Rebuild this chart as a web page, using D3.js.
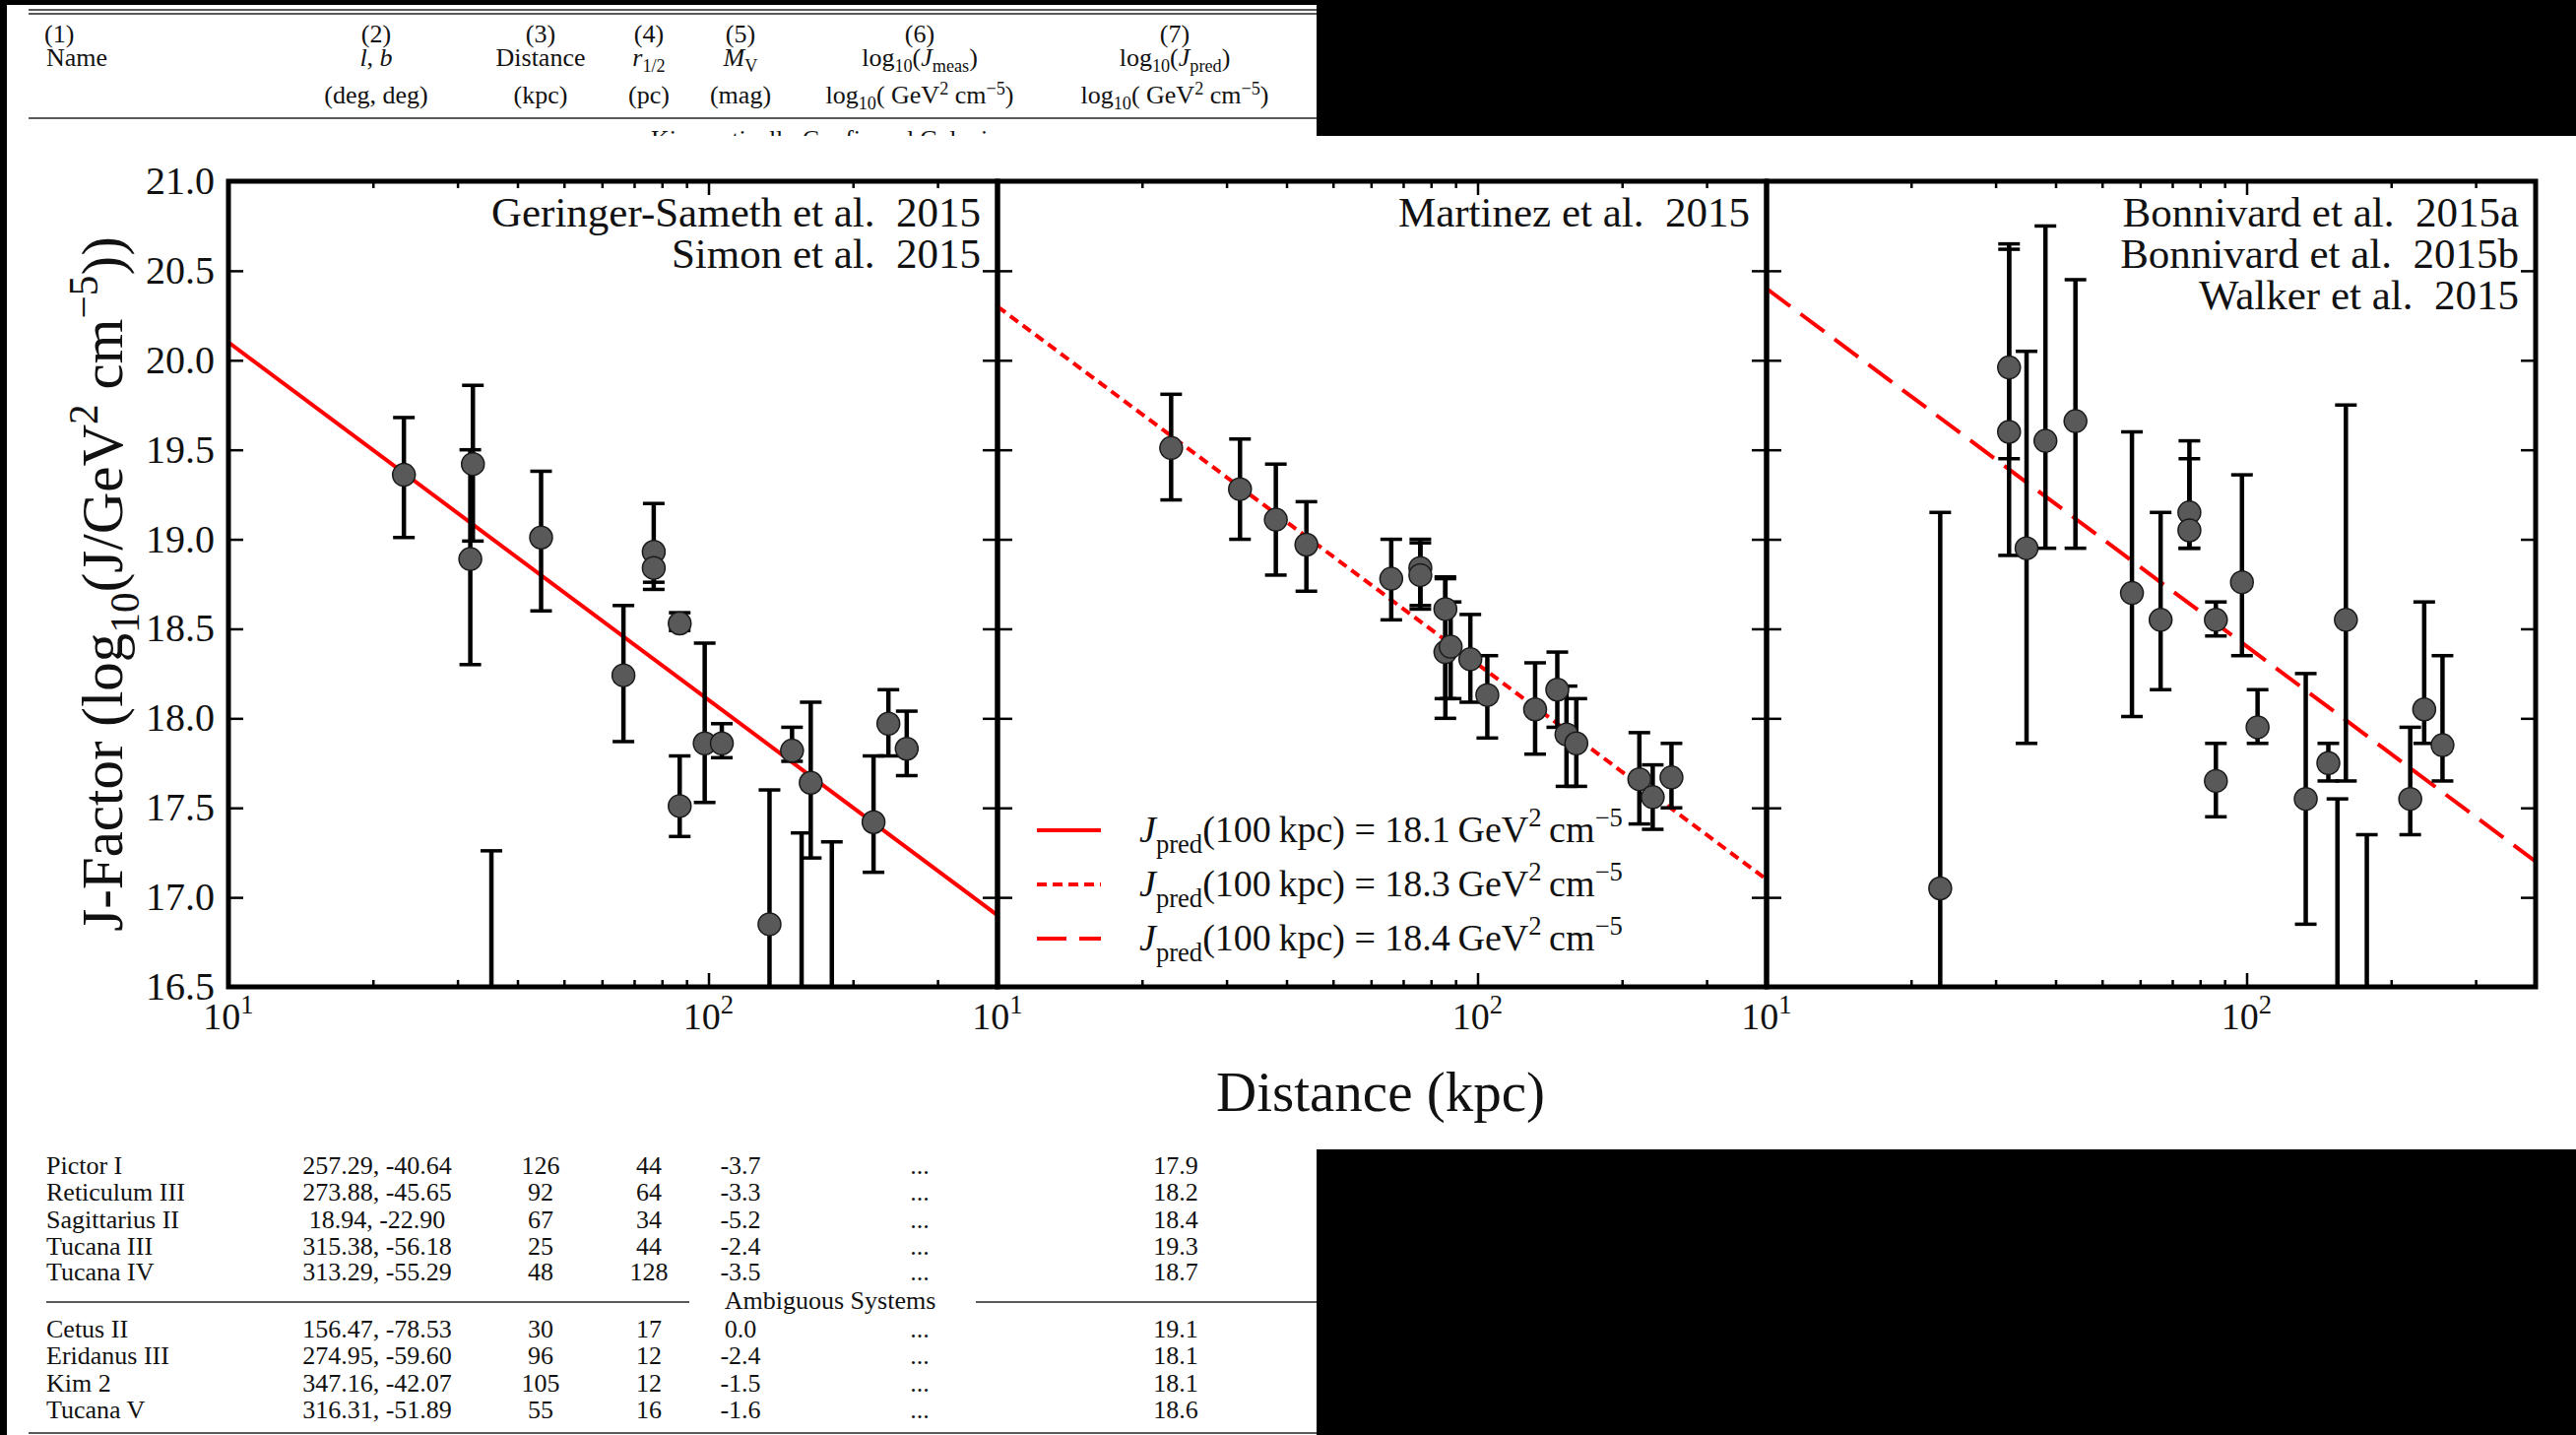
<!DOCTYPE html>
<html>
<head>
<meta charset="utf-8">
<script src="https://cdn.jsdelivr.net/npm/d3@7"></script>
<style>
html, body { margin: 0; padding: 0; background: #000; }
svg { display: block; }
text { font-family: "Liberation Serif", "DejaVu Serif", serif; fill: #111; white-space: pre; }
</style>
</head>
<body>
<div id="chart"></div>
<script>
// ---- panel 1: Geringer-Sameth et al. / Simon et al. 2015
var gsDist = [23.2, 32.3, 31.9, 35.3, 44.8, 66.5, 76.9, 76.9, 87.1, 87.1, 98.2, 106.6, 134, 149.3, 156.3, 163.3, 180.7, 220.7, 237, 258.8];
var gsJ    = [19.36, 19.42, 18.89, 16.2, 19.01, 18.24, 18.93, 18.84, 18.53, 17.51, 17.86, 17.86, 16.85, 17.82, 16.3, 17.64, 16.2, 17.42, 17.97, 17.83];
var gsLow  = [19.01, 18.99, 18.30, 15.5, 18.60, 17.87, 18.76, 18.72, 18.49, 17.34, 17.53, 17.78, 16.0, 17.76, 15.5, 17.22, 15.5, 17.14, 17.79, 17.68];
var gsHigh = [19.68, 19.86, 19.50, 17.26, 19.38, 18.63, 19.20, 18.95, 18.59, 17.79, 18.42, 17.97, 17.60, 17.95, 17.36, 18.09, 17.31, 17.79, 18.16, 18.04];

// ---- panel 2: Martinez et al. 2015
var mtDist = [23.0, 32.0, 38.0, 44.0, 66.1, 76.0, 76.0, 85.7, 85.7, 87.9, 96.6, 104.8, 131.8, 146.6, 153.2, 160.6, 217.3, 231.7, 253.5];
var mtJ    = [19.51, 19.28, 19.11, 18.97, 18.78, 18.84, 18.80, 18.61, 18.37, 18.40, 18.33, 18.13, 18.05, 18.16, 17.91, 17.86, 17.66, 17.56, 17.67];
var mtLow  = [19.22, 19.0, 18.80, 18.71, 18.55, 18.63, 18.61, 18.11, 18.0, 18.11, 18.09, 17.89, 17.80, 17.95, 17.62, 17.62, 17.41, 17.38, 17.50];
var mtHigh = [19.81, 19.56, 19.42, 19.21, 19.0, 19.0, 18.98, 18.79, 18.78, 18.65, 18.58, 18.35, 18.31, 18.37, 18.18, 18.11, 17.92, 17.74, 17.86];

// ---- panel 3: Bonnivard et al. 2015a,b / Walker et al. 2015
var bwDist = [23.0, 32.0, 32.0, 34.8, 38.1, 44.0, 57.7, 66.2, 76.0, 76.0, 86.3, 86.3, 97.8, 105.4, 132.8, 148, 154.6, 161, 178, 219.2, 234.4, 255.9];
var bwJ    = [17.05, 19.96, 19.60, 18.95, 19.55, 19.66, 18.70, 18.55, 19.15, 19.05, 18.55, 17.65, 18.76, 17.95, 17.55, 17.75, 16.2, 18.55, 16.2, 17.55, 18.05, 17.85];
var bwLow  = [16.0, 19.45, 18.91, 17.86, 18.95, 18.95, 18.01, 18.16, 18.95, 18.95, 18.46, 17.45, 18.35, 17.86, 16.85, 17.65, 15.5, 17.65, 15.5, 17.35, 17.86, 17.65];
var bwHigh = [19.15, 20.65, 20.62, 20.05, 20.75, 20.45, 19.60, 19.15, 19.55, 19.45, 18.65, 17.86, 19.36, 18.16, 18.25, 17.86, 17.55, 19.75, 17.35, 17.95, 18.65, 18.35];

// predicted J(d) lines, end points at 10 and 400 kpc
var fitDist = [10, 400];
var fitJ1 = [20.1, 16.9];
var fitJ2 = [20.3, 17.1];
var fitJ3 = [20.4, 17.2];
var fitLabels = ["18.1", "18.3", "18.4"];

var panelRefs = [
    ["Geringer-Sameth et al.  2015", "Simon et al.  2015"],
    ["Martinez et al.  2015"],
    ["Bonnivard et al.  2015a", "Bonnivard et al.  2015b", "Walker et al.  2015"]
];

var yTicks = [16.5, 17.0, 17.5, 18.0, 18.5, 19.0, 19.5, 20.0, 20.5, 21.0];
var xMajor = [10, 100];
var xMinor = [20, 30, 40, 50, 60, 70, 80, 90, 200, 300];

// ---- table rows (bottom strip)
var newNames  = ["Pictor I", "Reticulum III", "Sagittarius II", "Tucana III", "Tucana IV"];
var newLB     = ["257.29, -40.64", "273.88, -45.65", "18.94, -22.90", "315.38, -56.18", "313.29, -55.29"];
var newDist   = ["126", "92", "67", "25", "48"];
var newRhalf  = ["44", "64", "34", "44", "128"];
var newMv     = ["-3.7", "-3.3", "-5.2", "-2.4", "-3.5"];
var newJpred  = ["17.9", "18.2", "18.4", "19.3", "18.7"];
var ambNames  = ["Cetus II", "Eridanus III", "Kim 2", "Tucana V"];
var ambLB     = ["156.47, -78.53", "274.95, -59.60", "347.16, -42.07", "316.31, -51.89"];
var ambDist   = ["30", "96", "105", "55"];
var ambRhalf  = ["17", "12", "12", "16"];
var ambMv     = ["0.0", "-2.4", "-1.5", "-1.6"];
var ambJpred  = ["19.1", "18.1", "18.1", "18.6"];

function init() {
    var W = 2616, H = 1457;
    var svg = d3.select("#chart").append("svg")
        .attr("width", W).attr("height", H);

    svg.append("rect").attr("width", W).attr("height", H).attr("fill", "#000");
    svg.append("rect").attr("x", 7).attr("y", 5).attr("width", 1330).attr("height", 134).attr("fill", "#fff");
    svg.append("rect").attr("x", 7).attr("y", 138).attr("width", W - 7).attr("height", 1029).attr("fill", "#fff");
    svg.append("rect").attr("x", 7).attr("y", 1167).attr("width", 1330).attr("height", 290).attr("fill", "#fff");

    // rich text: parts with sub / sup / italic
    function rich(txt, parts, fs, subK, supK) {
        var cur = 0;
        subK = subK || 0.28;
        supK = supK || 0.42;
        parts.forEach(function (p) {
            var off = p.sub ? subK * fs : (p.sup ? -supK * fs : 0);
            var t = txt.append("tspan")
                .attr("dy", off - cur)
                .attr("font-size", (p.sub || p.sup) ? fs * 0.7 : fs)
                .text(p.t);
            if (p.it) t.attr("font-style", "italic");
            cur = off;
        });
        return txt;
    }
    function label(x, y, fs, anchor, parts, subK, supK) {
        var t = svg.append("text").attr("x", x).attr("y", y)
            .attr("font-size", fs).attr("text-anchor", anchor);
        return rich(t, parts, fs, subK, supK);
    }

    // ---------------- top table header ----------------
    var tfs = 26;
    [10, 14].forEach(function (yy) {
        svg.append("line").attr("x1", 29).attr("x2", 1337).attr("y1", yy).attr("y2", yy)
            .attr("stroke", "#222").attr("stroke-width", 1.5);
    });
    svg.append("line").attr("x1", 29).attr("x2", 1337).attr("y1", 120).attr("y2", 120)
        .attr("stroke", "#222").attr("stroke-width", 1.5);

    var colX = [382, 549, 659, 752, 934, 1193];
    var r1 = 43, r2 = 67, r3 = 105;
    label(45, r1, tfs, "start", [{t: "(1)"}]);
    label(47, r2, tfs, "start", [{t: "Name"}]);
    ["(2)", "(3)", "(4)", "(5)", "(6)", "(7)"].forEach(function (s, i) {
        label(colX[i], r1, tfs, "middle", [{t: s}]);
    });
    label(colX[0], r2, tfs, "middle", [{t: "l", it: true}, {t: ", "}, {t: "b", it: true}]);
    label(colX[1], r2, tfs, "middle", [{t: "Distance"}]);
    label(colX[2], r2, tfs, "middle", [{t: "r", it: true}, {t: "1/2", sub: true}], 0.22);
    label(colX[3], r2, tfs, "middle", [{t: "M", it: true}, {t: "V", sub: true}], 0.22);
    label(colX[4], r2, tfs, "middle", [{t: "log"}, {t: "10", sub: true}, {t: "("}, {t: "J", it: true}, {t: "meas", sub: true}, {t: ")"}], 0.22);
    label(colX[5], r2, tfs, "middle", [{t: "log"}, {t: "10", sub: true}, {t: "("}, {t: "J", it: true}, {t: "pred", sub: true}, {t: ")"}], 0.22);
    label(colX[0], r3, tfs, "middle", [{t: "(deg, deg)"}]);
    label(colX[1], r3, tfs, "middle", [{t: "(kpc)"}]);
    label(colX[2], r3, tfs, "middle", [{t: "(pc)"}]);
    label(colX[3], r3, tfs, "middle", [{t: "(mag)"}]);
    [colX[4], colX[5]].forEach(function (cx) {
        label(cx, r3, tfs, "middle", [{t: "log"}, {t: "10", sub: true}, {t: "( GeV"}, {t: "2", sup: true}, {t: " cm"}, {t: "\u22125", sup: true}, {t: ")"}], 0.22, 0.36);
    });
    // next section title, cut off by the strip's lower edge
    svg.append("clipPath").attr("id", "cutTop").append("rect")
        .attr("x", 0).attr("y", 0).attr("width", 1337).attr("height", 138);
    svg.append("text").attr("x", 843).attr("y", 150).attr("font-size", tfs)
        .attr("text-anchor", "middle").attr("clip-path", "url(#cutTop)")
        .text("Kinematically Confirmed Galaxies");

    // ---------------- panels ----------------
    var panelW = 781, panelX0 = 232, yTop = 184, yBot = 1002;
    var y = d3.scaleLinear().domain([16.5, 21]).range([yBot, yTop]);

    var panels = [
        {dist: gsDist, j: gsJ, lo: gsLow, hi: gsHigh, fit: fitJ1, dash: null},
        {dist: mtDist, j: mtJ, lo: mtLow, hi: mtHigh, fit: fitJ2, dash: "10,6"},
        {dist: bwDist, j: bwJ, lo: bwLow, hi: bwHigh, fit: fitJ3, dash: "30,13"}
    ];

    panels.forEach(function (p, i) {
        var x0 = panelX0 + i * panelW;
        var x = d3.scaleLog().domain([10, 400]).range([x0, x0 + panelW]);
        var g = svg.append("g");

        g.append("clipPath").attr("id", "clip" + i).append("rect")
            .attr("x", x0).attr("y", yTop).attr("width", panelW).attr("height", yBot - yTop);
        var plot = g.append("g").attr("clip-path", "url(#clip" + i + ")");

        // predicted line
        var line = d3.line().x(function (d) { return x(d[0]); }).y(function (d) { return y(d[1]); });
        plot.append("path")
            .datum(d3.zip(fitDist, p.fit))
            .attr("d", line)
            .attr("fill", "none")
            .attr("stroke", "#ff0000")
            .attr("stroke-width", 4)
            .attr("stroke-dasharray", p.dash);

        var rows = p.dist.map(function (d, k) { return {d: d, j: p.j[k], lo: p.lo[k], hi: p.hi[k]}; });

        // error bars
        plot.selectAll(".bar").data(rows).enter().append("line")
            .attr("x1", function (d) { return x(d.d); })
            .attr("x2", function (d) { return x(d.d); })
            .attr("y1", function (d) { return y(d.lo); })
            .attr("y2", function (d) { return y(d.hi); })
            .attr("stroke", "#000").attr("stroke-width", 4.5);
        ["lo", "hi"].forEach(function (key) {
            plot.selectAll(".cap-" + key).data(rows).enter().append("line")
                .attr("x1", function (d) { return x(d.d) - 11; })
                .attr("x2", function (d) { return x(d.d) + 11; })
                .attr("y1", function (d) { return y(d[key]); })
                .attr("y2", function (d) { return y(d[key]); })
                .attr("stroke", "#000").attr("stroke-width", 3.5);
        });
        // markers
        plot.selectAll("circle").data(rows).enter().append("circle")
            .attr("cx", function (d) { return x(d.d); })
            .attr("cy", function (d) { return y(d.j); })
            .attr("r", 11.5)
            .attr("fill", "#595959")
            .attr("stroke", "#1a1a1a")
            .attr("stroke-width", 1.5);

        // ticks (inward) on all four sides
        function styleAxis(a) {
            a.select(".domain").remove();
            a.selectAll("line").attr("stroke", "#000").attr("stroke-width", 2.5);
            a.selectAll("text").remove();
        }
        [[xMajor, 14], [xMinor, 7]].forEach(function (t) {
            g.append("g").attr("transform", "translate(0," + yBot + ")")
                .call(d3.axisBottom(x).tickValues(t[0]).tickSize(-t[1]).tickFormat(""))
                .call(styleAxis);
            g.append("g").attr("transform", "translate(0," + yTop + ")")
                .call(d3.axisTop(x).tickValues(t[0]).tickSize(-t[1]).tickFormat(""))
                .call(styleAxis);
        });
        g.append("g").attr("transform", "translate(" + x0 + ",0)")
            .call(d3.axisLeft(y).tickValues(yTicks).tickSize(-15).tickFormat(""))
            .call(styleAxis);
        g.append("g").attr("transform", "translate(" + (x0 + panelW) + ",0)")
            .call(d3.axisRight(y).tickValues(yTicks).tickSize(-15).tickFormat(""))
            .call(styleAxis);

        // spine
        g.append("rect").attr("x", x0).attr("y", yTop).attr("width", panelW).attr("height", yBot - yTop)
            .attr("fill", "none").attr("stroke", "#000").attr("stroke-width", 5);

        // x tick labels 10^1, 10^2
        xMajor.forEach(function (v) {
            label(x(v), 1045, 38, "middle", [{t: "10"}, {t: String(Math.round(Math.log10(v))), sup: true}]);
        });

        // y tick labels on first panel only
        if (i === 0) {
            yTicks.forEach(function (v) {
                svg.append("text").attr("x", 218).attr("y", y(v) + 13)
                    .attr("font-size", 40).attr("text-anchor", "end")
                    .text(d3.format(".1f")(v));
            });
        }

        // reference text
        panelRefs[i].forEach(function (s, k) {
            svg.append("text").attr("x", x0 + panelW - 17).attr("y", 230 + k * 42)
                .attr("font-size", 43).attr("text-anchor", "end").text(s);
        });

        // legend inside the middle panel
        if (i === 1) {
            panels.forEach(function (q, k) {
                var ly = 843 + k * 55;
                svg.append("line").attr("x1", x0 + 40).attr("x2", x0 + 105)
                    .attr("y1", ly).attr("y2", ly)
                    .attr("stroke", "#ff0000").attr("stroke-width", 4)
                    .attr("stroke-dasharray", q.dash);
                label(x0 + 144, ly + 12, 38, "start", [
                    {t: "J", it: true}, {t: "pred", sub: true},
                    {t: "(100\u2009kpc) = " + fitLabels[k] + "\u2009GeV"},
                    {t: "2", sup: true}, {t: "\u2009cm"}, {t: "\u22125", sup: true}
                ]);
            });
        }
    });

    // axis titles
    var yl = svg.append("text")
        .attr("transform", "translate(124,593) rotate(-90)")
        .attr("font-size", 59).attr("text-anchor", "middle");
    rich(yl, [{t: "J-Factor (log"}, {t: "10", sub: true}, {t: "(J/GeV"}, {t: "2", sup: true},
        {t: " cm"}, {t: "\u22125", sup: true}, {t: "))"}], 59);
    svg.append("text").attr("x", 1402).attr("y", 1128).attr("font-size", 57)
        .attr("text-anchor", "middle").text("Distance (kpc)");

    // ---------------- bottom table ----------------
    var bCol = [383, 549, 659, 752, 934, 1194];
    function tableRow(yy, name, lb, dist, rh, mv, jp) {
        label(47, yy, tfs, "start", [{t: name}]);
        label(bCol[0], yy, tfs, "middle", [{t: lb}]);
        label(bCol[1], yy, tfs, "middle", [{t: dist}]);
        label(bCol[2], yy, tfs, "middle", [{t: rh}]);
        label(bCol[3], yy, tfs, "middle", [{t: mv}]);
        label(bCol[4], yy, tfs, "middle", [{t: "..."}]);
        label(bCol[5], yy, tfs, "middle", [{t: jp}]);
    }
    var newY = [1192, 1219, 1247, 1274, 1300];
    newNames.forEach(function (n, k) {
        tableRow(newY[k], n, newLB[k], newDist[k], newRhalf[k], newMv[k], newJpred[k]);
    });
    var ambY = [1358, 1385, 1413, 1440];
    ambNames.forEach(function (n, k) {
        tableRow(ambY[k], n, ambLB[k], ambDist[k], ambRhalf[k], ambMv[k], ambJpred[k]);
    });
    svg.append("line").attr("x1", 47).attr("x2", 700).attr("y1", 1322).attr("y2", 1322)
        .attr("stroke", "#222").attr("stroke-width", 1.5);
    svg.append("line").attr("x1", 991).attr("x2", 1337).attr("y1", 1322).attr("y2", 1322)
        .attr("stroke", "#222").attr("stroke-width", 1.5);
    label(843, 1329, tfs, "middle", [{t: "Ambiguous Systems"}]);
    svg.append("line").attr("x1", 29).attr("x2", 1337).attr("y1", 1455).attr("y2", 1455)
        .attr("stroke", "#222").attr("stroke-width", 1.5);
}

window.onload = init;
</script>
</body>
</html>
